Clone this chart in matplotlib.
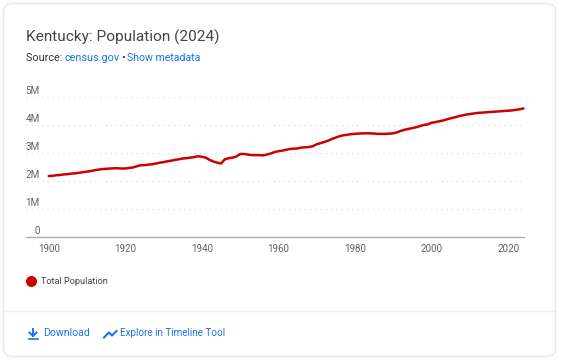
import matplotlib
matplotlib.use('Agg')
import matplotlib.pyplot as plt
from matplotlib.patches import FancyBboxPatch, Circle
import numpy as np

years = np.arange(1900, 2025)
population = [
    2.17, 2.18, 2.20, 2.21, 2.23, 2.24, 2.26, 2.27, 2.29, 2.31,
    2.33, 2.35, 2.38, 2.40, 2.42, 2.43, 2.44, 2.45, 2.45, 2.44,
    2.44, 2.46, 2.48, 2.52, 2.56, 2.56, 2.58, 2.59, 2.62, 2.65,
    2.67, 2.70, 2.72, 2.75, 2.77, 2.80, 2.81, 2.83, 2.85, 2.88,
    2.86, 2.83, 2.75, 2.69, 2.65, 2.62, 2.77, 2.81, 2.83, 2.87,
    2.96, 2.96, 2.94, 2.92, 2.92, 2.92, 2.91, 2.94, 2.98, 3.03,
    3.06, 3.08, 3.11, 3.14, 3.15, 3.16, 3.19, 3.20, 3.21, 3.24,
    3.31, 3.35, 3.39, 3.44, 3.50, 3.55, 3.60, 3.63, 3.65, 3.67,
    3.68, 3.69, 3.70, 3.70, 3.70, 3.69, 3.68, 3.68, 3.68, 3.69,
    3.70, 3.74, 3.79, 3.83, 3.86, 3.89, 3.92, 3.96, 4.00, 4.02,
    4.08, 4.10, 4.13, 4.16, 4.20, 4.24, 4.27, 4.31, 4.34, 4.37,
    4.39, 4.41, 4.43, 4.44, 4.45, 4.46, 4.47, 4.48, 4.49, 4.50,
    4.51, 4.52, 4.54, 4.56, 4.59,
]
y_ticks = [0, 1, 2, 3, 4, 5]
y_labels = ['0', '1M', '2M', '3M', '4M', '5M']
x_ticks = [1900, 1920, 1940, 1960, 1980, 2000, 2020]

W, H = 568, 362
RED = '#cc0000'
BLUE = '#1a73e8'
DARK = '#444444'
GREY = '#5f6368'

plt.rcParams['font.family'] = ['Roboto', 'DejaVu Sans']
fig = plt.figure(figsize=(W / 100, H / 100), dpi=100, facecolor='white')

# overlay in pixel units for the card and the text around the chart
bg = fig.add_axes([0, 0, 1, 1])
bg.set_xlim(0, W)
bg.set_ylim(H, 0)
bg.axis('off')
bg.add_patch(FancyBboxPatch((3.5, 3.5), 552, 353, boxstyle='round,pad=0,rounding_size=9',
                            fc='white', ec='#e6e6e6', lw=1))

bg.text(26, 37, 'Kentucky: Population (2024)', fontsize=11.1, color=DARK, va='center')
bg.text(26, 58, 'Source: ', fontsize=7.8, color='#333333', va='center')
bg.text(64.5, 58, 'census.gov', fontsize=7.8, color=BLUE, va='center')
bg.text(121, 58, '•', fontsize=7.8, color='#333333', va='center')
bg.text(127, 58, 'Show metadata', fontsize=7.6, color=BLUE, va='center')

bg.plot([3.5, 555.5], [310.5, 310.5], color='#ececec', lw=1)
bg.add_patch(Circle((31.5, 281.5), 5.5, fc=RED, ec='none'))
bg.text(41, 281.5, 'Total Population', fontsize=6.6, color=DARK, va='center')

# download icon
bg.plot([33, 33], [329, 335.5], color=BLUE, lw=1.4)
bg.plot([29.5, 33, 36.5], [332.5, 336, 332.5], color=BLUE, lw=1.4)
bg.plot([29, 37.5], [338.5, 338.5], color=BLUE, lw=1.2)
bg.text(43, 333.5, 'Download', fontsize=7.6, color=BLUE, va='center')

# timeline icon
bg.plot([104, 109, 112, 116.5], [337.5, 332.5, 335.5, 331], color=BLUE, lw=1.5)
bg.text(119.5, 333.5, 'Explore in Timeline Tool', fontsize=7.1, color=BLUE, va='center')

# chart axes, 0 at y=236.7, 5M at y=97
top, bottom, left, right = 97, 236.7, 26, 523.5
ax = fig.add_axes([left / W, 1 - bottom / H, (right - left) / W, (bottom - top) / H])
ax.patch.set_alpha(0)
ax.plot(years, population, color=RED, lw=1.8, solid_capstyle='round', clip_on=False, zorder=3)
ax.set_xlim(1894.05, 2024)
ax.set_ylim(0, 5)
ax.set_yticks(y_ticks)
ax.set_yticklabels([])
ax.set_xticks(x_ticks)
ax.tick_params(axis='x', length=0, pad=5.5, labelsize=7.1, labelcolor=GREY)
ax.tick_params(axis='y', length=0)
ax.grid(axis='y', color='#e4e4e4', lw=0.9, linestyle=(0, (1.2, 3)))
for s in ['top', 'left', 'right']:
    ax.spines[s].set_visible(False)
ax.spines['bottom'].set_color('#b0b0b0')
ax.spines['bottom'].set_linewidth(1)
for tick, lab in zip(y_ticks, y_labels):
    ax.text(1897.6, tick + 0.03, lab, fontsize=7.1, color=GREY, va='bottom', ha='right')

fig.savefig('out.png', dpi=100)
